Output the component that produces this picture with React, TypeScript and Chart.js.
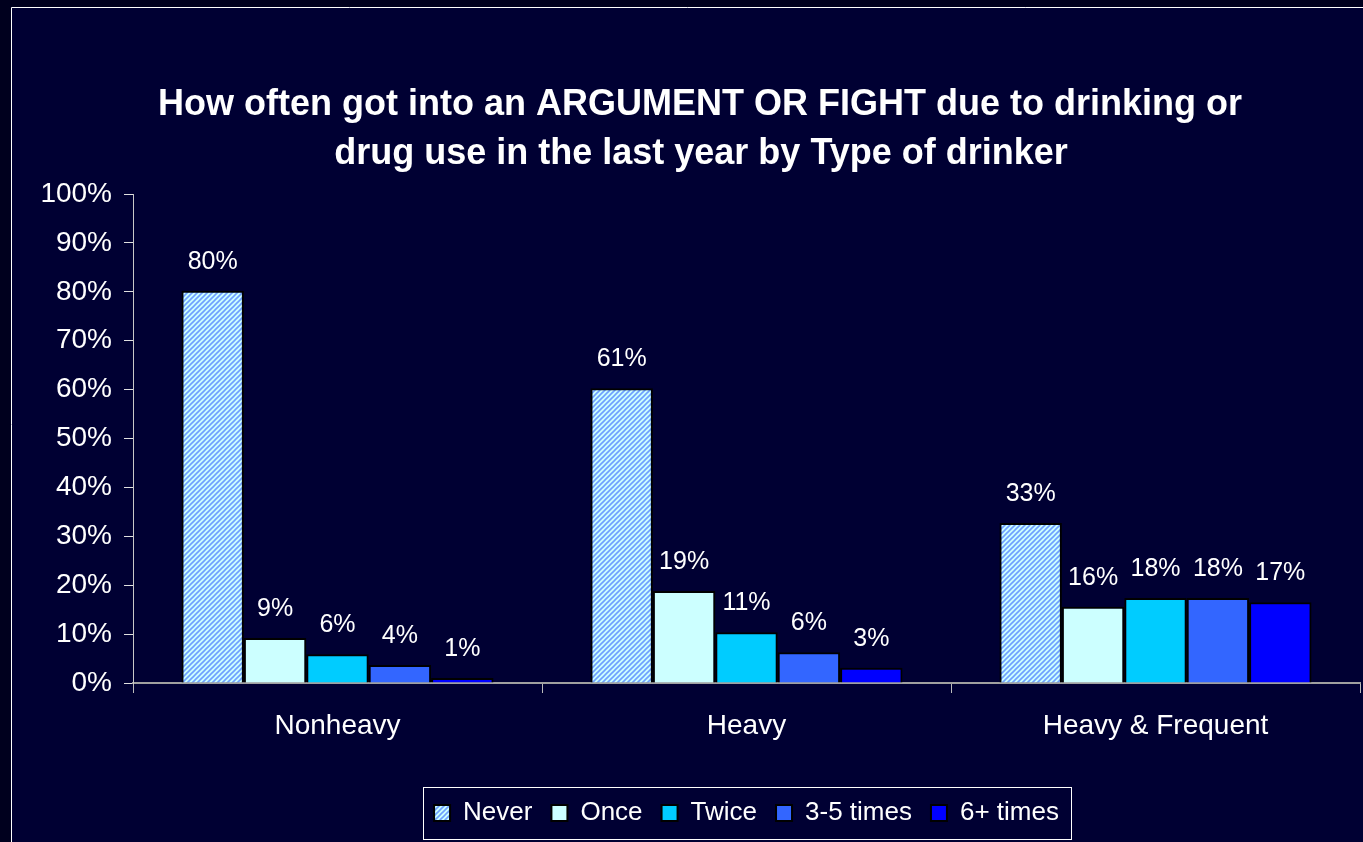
import React, { useEffect, useRef } from "react";
import { Chart, registerables } from "chart.js";

Chart.register(...registerables);

// ---------- data ----------
const categories = ["Nonheavy", "Heavy", "Heavy & Frequent"];
const seriesNames = ["Never", "Once", "Twice", "3-5 times", "6+ times"];
const never = [80.2, 60.3, 32.7];
const once = [9.2, 18.8, 15.6];
const twice = [5.9, 10.4, 17.4];
const threeToFive = [3.7, 6.3, 17.4];
const sixPlus = [1.0, 3.1, 16.5];
// printed labels above bars
const neverLabels = ["80%", "61%", "33%"];
const onceLabels = ["9%", "19%", "16%"];
const twiceLabels = ["6%", "11%", "18%"];
const threeToFiveLabels = ["4%", "6%", "18%"];
const sixPlusLabels = ["1%", "3%", "17%"];
const yTicks = [0, 10, 20, 30, 40, 50, 60, 70, 80, 90, 100];
const titleLines = [
  "How often got into an ARGUMENT OR FIGHT due to drinking or",
  "drug use in the last year by Type of drinker",
];

const FONT = "'Liberation Sans', Arial, sans-serif";

function makeStripe(ctx: CanvasRenderingContext2D) {
  const s = 5;
  const c = document.createElement("canvas");
  c.width = s;
  c.height = s;
  const g = c.getContext("2d")!;
  g.fillStyle = "#ccffff";
  g.fillRect(0, 0, s, s);
  g.strokeStyle = "#6e9fff";
  g.lineWidth = 1.6;
  g.beginPath();
  g.moveTo(0, s);
  g.lineTo(s, 0);
  g.moveTo(-s / 2, s / 2);
  g.lineTo(s / 2, -s / 2);
  g.moveTo(s / 2, s * 1.5);
  g.lineTo(s * 1.5, s / 2);
  g.stroke();
  return ctx.createPattern(c, "repeat")!;
}

const backgroundPlugin = {
  id: "bgFrame",
  beforeDraw(chart: any) {
    const { ctx, width, height } = chart;
    ctx.save();
    ctx.fillStyle = "#00001e";
    ctx.fillRect(0, 0, width, height);
    ctx.fillStyle = "#000033";
    ctx.fillRect(11, 7, width - 11, height - 7);
    ctx.strokeStyle = "#ffffff";
    ctx.lineWidth = 1;
    ctx.beginPath();
    ctx.moveTo(11.5, height);
    ctx.lineTo(11.5, 7.5);
    ctx.lineTo(width, 7.5);
    ctx.stroke();
    ctx.restore();
  },
};

const titlePlugin = {
  id: "customTitle",
  afterDraw(chart: any) {
    const { ctx } = chart;
    ctx.save();
    ctx.fillStyle = "#ffffff";
    ctx.font = `bold 36px ${FONT}`;
    ctx.textAlign = "center";
    ctx.textBaseline = "alphabetic";
    ctx.fillText(titleLines[0], 700, 115);
    ctx.fillText(titleLines[1], 701, 164);
    ctx.restore();
  },
};

const labelSets = [neverLabels, onceLabels, twiceLabels, threeToFiveLabels, sixPlusLabels];

const dataLabelPlugin = {
  id: "dataLabels",
  afterDatasetsDraw(chart: any) {
    const { ctx } = chart;
    ctx.save();
    ctx.fillStyle = "#ffffff";
    ctx.font = `25px ${FONT}`;
    ctx.textAlign = "center";
    ctx.textBaseline = "middle";
    chart.data.datasets.forEach((ds: any, i: number) => {
      const meta = chart.getDatasetMeta(i);
      meta.data.forEach((bar: any, j: number) => {
        ctx.fillText(labelSets[i][j], bar.x, bar.y - 29);
      });
    });
    ctx.restore();
  },
};

const legendFramePlugin = {
  id: "legendFrame",
  afterDraw(chart: any) {
    const lg = chart.legend;
    if (!lg || !lg.legendHitBoxes || !lg.legendHitBoxes.length) return;
    const boxes = lg.legendHitBoxes;
    let l = Infinity, r = -Infinity, cy = 0;
    boxes.forEach((b: any) => {
      l = Math.min(l, b.left);
      r = Math.max(r, b.left + b.width);
      cy = b.top + b.height / 2;
    });
    const { ctx } = chart;
    ctx.save();
    ctx.strokeStyle = "#ffffff";
    ctx.lineWidth = 1;
    ctx.strokeRect(Math.round(l - 11) + 0.5, Math.round(cy - 26) + 0.5, Math.round(r - l + 23), 52);
    ctx.restore();
  },
};

export default function App() {
  const ref = useRef<HTMLCanvasElement>(null);
  useEffect(() => {
    const canvas = ref.current!;
    const ctx = canvas.getContext("2d")!;
    const stripe = makeStripe(ctx);
    const colors: any[] = [stripe, "#ccffff", "#00ccff", "#3366ff", "#0000ff"];
    const values = [never, once, twice, threeToFive, sixPlus];
    const chart = new Chart(ctx, {
      type: "bar",
      data: {
        labels: categories,
        datasets: seriesNames.map((name, i) => ({
          label: name,
          data: values[i],
          backgroundColor: colors[i],
          borderColor: "#000000",
          borderWidth: 2,
          categoryPercentage: 0.763,
          barPercentage: 1,
        })),
      },
      options: {
        responsive: false,
        animation: false,
        layout: { padding: { top: 194, left: 0, right: 3, bottom: 6 } },
        plugins: {
          title: { display: false },
          tooltip: { enabled: false },
          legend: {
            display: true,
            position: "bottom",
            fullSize: false,
            labels: {
              color: "#ffffff",
              font: { size: 26, family: FONT },
              boxWidth: 16,
              boxHeight: 16,
              padding: 19,
            },
          },
        },
        scales: {
          x: {
            afterFit(scale: any) {
              scale.height = 98;
            },
            grid: {
              drawOnChartArea: false,
              drawTicks: true,
              tickLength: 10,
              color: "#bbbbbb",
              offset: true,
            },
            border: { color: "#a0a0a0", width: 2 },
            ticks: {
              color: "#ffffff",
              font: { size: 28, family: FONT },
              padding: 16,
            },
          },
          y: {
            min: 0,
            max: 100,
            afterFit(scale: any) {
              scale.width = 133;
            },
            afterBuildTicks(scale: any) {
              scale.ticks = yTicks.map((v) => ({ value: v }));
            },
            grid: {
              drawOnChartArea: false,
              drawTicks: true,
              tickLength: 9,
              color: "#e0e0e0",
            },
            border: { color: "#c8c8c8", width: 1 },
            ticks: {
              color: "#ffffff",
              font: { size: 28, family: FONT },
              padding: 12,
              callback: (v: any) => `${v}%`,
            },
          },
        },
      },
      plugins: [backgroundPlugin, titlePlugin, dataLabelPlugin, legendFramePlugin],
    });
    return () => chart.destroy();
  }, []);
  return (
    <div style={{ position: "fixed", left: 0, top: 0, width: 1363, height: 842, background: "#000033" }}>
      <canvas ref={ref} width={1363} height={842} style={{ display: "block" }} />
    </div>
  );
}
